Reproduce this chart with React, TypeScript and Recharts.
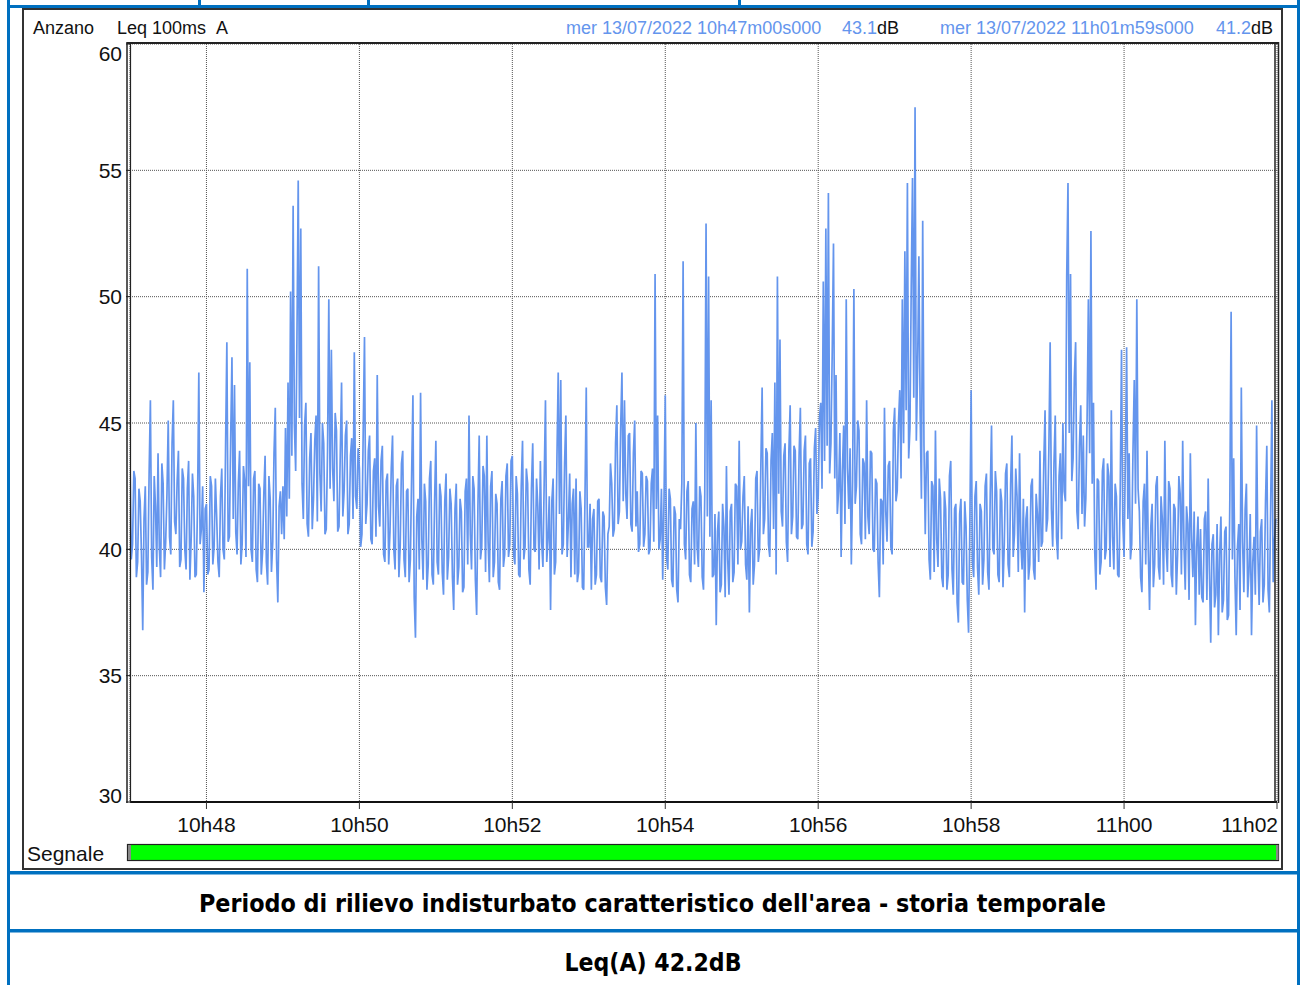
import React from 'react';
import { LineChart, Line, XAxis, YAxis, CartesianGrid } from 'recharts';

// Leq 100ms A (dB), one value per second, one array per minute from 10h47 to 11h01
const m47 = [43.5, 39.6, 40.2, 43.1, 42.8, 38.9, 39.5, 42.4, 41.9, 39.8, 36.8, 41.2, 42.5, 38.6, 39.1, 43.0, 45.9, 39.7, 38.4, 42.9, 41.7, 39.3, 43.8, 40.1, 38.9, 43.4, 42.6, 39.2, 40.3, 42.2, 45.1, 40.5, 39.8, 44.2, 45.9, 41.1, 40.6, 42.7, 43.9, 39.3, 39.6, 43.2, 42.8, 40.0, 39.2, 42.4, 43.5, 38.8, 40.4, 43.0, 42.1, 38.9, 39.0, 41.8, 47.0, 40.2, 40.8, 42.5, 38.3, 41.6];
const m48 = [41.8, 39.0, 39.2, 42.9, 42.5, 39.4, 40.1, 42.8, 41.3, 39.5, 38.9, 42.1, 43.2, 40.0, 39.6, 44.1, 48.2, 40.3, 40.5, 44.4, 47.6, 41.2, 46.5, 40.7, 39.8, 42.6, 43.9, 39.4, 40.2, 43.3, 42.7, 39.7, 51.1, 42.5, 47.4, 40.0, 39.5, 42.8, 43.1, 39.2, 38.7, 42.6, 42.4, 39.0, 39.9, 42.2, 43.7, 39.5, 38.6, 42.9, 42.0, 39.1, 40.3, 43.8, 45.6, 39.6, 37.9, 41.7, 42.3, 40.6];
const m49 = [42.5, 40.4, 44.8, 41.3, 46.6, 42.0, 50.2, 43.7, 53.6, 44.9, 43.1, 48.4, 54.6, 45.2, 52.7, 42.6, 41.2, 44.9, 45.8, 41.0, 40.5, 43.6, 44.6, 40.8, 42.0, 44.3, 45.3, 41.1, 51.2, 43.0, 41.5, 45.0, 44.2, 40.6, 40.8, 43.9, 49.9, 42.4, 47.9, 43.2, 41.9, 45.4, 44.7, 40.7, 40.9, 43.8, 46.6, 41.3, 42.3, 44.5, 45.1, 40.6, 41.0, 43.7, 44.4, 41.2, 47.8, 42.1, 41.6, 44.0];
const m50 = [43.2, 40.1, 40.6, 44.7, 48.4, 41.0, 41.8, 43.9, 44.5, 40.4, 40.2, 43.1, 43.6, 40.5, 46.9, 41.7, 40.9, 43.5, 44.1, 39.8, 39.5, 42.7, 43.0, 39.4, 40.7, 43.2, 44.5, 40.0, 39.2, 42.5, 42.8, 38.9, 40.1, 43.4, 43.9, 39.6, 38.9, 42.3, 42.4, 38.7, 39.6, 43.0, 46.1, 38.1, 36.5, 41.3, 42.0, 39.2, 46.2, 40.4, 38.8, 42.6, 41.9, 38.4, 39.4, 42.8, 43.5, 39.0, 38.6, 41.9];
const m51 = [44.3, 39.5, 39.0, 42.6, 42.1, 39.1, 38.2, 41.9, 43.0, 38.8, 39.7, 42.4, 41.8, 38.9, 37.6, 41.6, 42.6, 38.6, 39.3, 42.0, 41.5, 38.3, 38.5, 42.3, 42.8, 39.4, 45.3, 40.6, 39.2, 42.9, 42.4, 38.8, 37.4, 41.7, 44.5, 39.6, 40.1, 43.3, 42.9, 39.1, 44.5, 40.3, 38.7, 42.5, 43.1, 38.9, 39.5, 42.2, 41.8, 38.7, 38.4, 42.0, 42.7, 39.3, 39.8, 42.9, 43.4, 39.7, 40.2, 43.5];
const m52 = [43.7, 39.8, 39.4, 42.9, 42.2, 39.0, 38.9, 42.5, 44.3, 39.6, 40.1, 43.2, 42.6, 39.2, 38.6, 42.4, 44.2, 40.0, 39.9, 42.8, 41.7, 39.2, 43.5, 40.3, 39.3, 42.7, 45.9, 39.5, 40.4, 42.1, 37.6, 41.9, 42.8, 39.0, 39.5, 43.6, 47.0, 41.4, 46.7, 39.8, 40.2, 43.4, 45.3, 39.7, 41.1, 43.0, 38.9, 41.8, 42.4, 39.0, 42.8, 38.7, 39.1, 42.3, 41.6, 38.5, 38.4, 42.0, 46.4, 40.1];
const m53 = [40.1, 41.8, 38.4, 41.2, 41.6, 38.6, 39.0, 41.9, 42.0, 38.9, 38.7, 41.5, 41.3, 38.5, 37.8, 40.6, 40.9, 43.4, 42.6, 40.5, 40.8, 44.2, 45.7, 41.0, 41.5, 44.8, 47.0, 41.9, 45.9, 42.2, 41.2, 44.5, 44.6, 41.0, 40.7, 43.8, 45.1, 40.9, 42.3, 39.9, 40.2, 43.1, 43.0, 40.1, 40.6, 42.9, 42.7, 39.8, 40.0, 42.6, 43.2, 40.3, 50.9, 41.6, 45.3, 40.0, 40.4, 42.4, 38.8, 41.9];
const m54 = [46.1, 39.7, 39.2, 42.4, 42.0, 38.8, 38.5, 41.7, 41.4, 38.4, 37.9, 41.2, 40.8, 42.6, 51.4, 40.2, 39.6, 42.3, 42.7, 39.0, 38.7, 41.6, 41.9, 39.4, 45.0, 40.1, 39.3, 42.5, 42.1, 38.9, 38.4, 42.2, 52.9, 41.3, 50.8, 40.5, 45.9, 38.9, 39.0, 41.4, 37.0, 40.7, 41.5, 38.3, 38.6, 41.8, 40.9, 38.1, 43.3, 39.6, 38.2, 41.5, 41.8, 38.7, 39.1, 42.6, 42.5, 39.4, 44.3, 40.0];
const m55 = [40.3, 42.1, 42.9, 39.4, 38.8, 41.7, 37.5, 40.9, 41.6, 38.6, 39.4, 42.8, 43.1, 39.5, 40.0, 43.3, 46.4, 40.6, 41.2, 44.0, 43.8, 40.2, 39.7, 43.5, 44.6, 40.8, 46.6, 39.0, 50.8, 42.2, 48.3, 41.5, 40.9, 43.7, 44.2, 40.3, 39.5, 43.9, 45.7, 40.6, 41.3, 44.1, 43.9, 40.5, 40.4, 43.7, 45.6, 40.8, 41.0, 43.9, 44.5, 40.2, 39.8, 43.4, 43.6, 40.1, 40.7, 44.0, 44.8, 41.4];
const m56 = [42.1, 45.2, 45.8, 42.4, 50.6, 43.5, 52.7, 44.1, 54.1, 43.0, 44.2, 47.8, 52.1, 42.8, 46.9, 41.4, 42.3, 44.6, 39.7, 43.1, 44.9, 41.0, 49.9, 43.2, 41.6, 44.0, 39.4, 42.7, 50.3, 41.8, 42.5, 45.1, 44.7, 40.6, 40.2, 43.6, 43.4, 40.4, 45.9, 41.3, 40.6, 43.9, 43.8, 40.0, 39.9, 42.8, 42.6, 39.5, 38.1, 42.0, 41.9, 39.4, 45.6, 41.5, 40.3, 43.3, 43.5, 40.1, 39.8, 44.7];
const m57 = [45.6, 41.9, 42.3, 45.0, 46.3, 42.8, 49.9, 44.2, 51.8, 45.5, 54.5, 43.6, 44.8, 50.4, 54.7, 46.0, 57.5, 44.3, 47.2, 51.6, 45.4, 42.0, 53.0, 44.1, 40.6, 43.8, 43.9, 39.6, 38.8, 42.7, 42.5, 39.1, 44.7, 40.4, 39.3, 42.8, 42.0, 38.9, 38.5, 42.3, 41.6, 38.4, 39.0, 42.9, 43.5, 39.2, 38.2, 41.6, 41.8, 37.9, 37.1, 41.4, 42.0, 38.7, 38.6, 41.9, 40.9, 38.0, 36.7, 41.0];
const m58 = [46.3, 39.5, 38.9, 42.1, 42.7, 39.3, 38.2, 41.8, 41.5, 38.6, 39.6, 42.5, 43.0, 39.1, 38.4, 42.2, 44.9, 40.0, 39.8, 43.1, 42.3, 39.0, 38.7, 42.4, 41.9, 38.5, 40.2, 43.0, 43.4, 39.4, 38.9, 42.6, 44.5, 39.7, 40.6, 43.2, 42.1, 39.1, 43.8, 40.3, 39.2, 42.0, 37.5, 41.2, 41.7, 38.8, 39.4, 42.5, 42.8, 39.2, 38.8, 42.2, 41.4, 39.5, 43.9, 40.1, 40.3, 43.4, 45.5, 40.7];
const m59 = [41.2, 44.0, 48.2, 41.6, 40.1, 43.4, 45.3, 40.5, 39.6, 42.9, 43.8, 40.4, 45.0, 42.3, 41.9, 50.8, 54.5, 44.6, 50.9, 42.7, 43.6, 46.8, 48.2, 41.5, 40.8, 44.1, 45.7, 41.4, 44.5, 40.9, 42.0, 45.2, 49.9, 43.8, 52.6, 42.6, 45.8, 39.9, 38.4, 42.8, 42.7, 39.0, 39.5, 43.1, 43.6, 39.6, 40.0, 43.4, 42.9, 39.3, 45.5, 40.5, 39.2, 42.6, 42.1, 39.0, 38.9, 42.4, 47.9, 41.1];
const m00 = [39.7, 43.5, 48.0, 41.2, 43.8, 39.6, 40.2, 43.9, 46.7, 41.8, 49.9, 42.4, 41.5, 38.9, 38.3, 41.9, 42.6, 39.4, 43.9, 40.0, 37.6, 40.9, 41.8, 38.5, 39.4, 42.5, 42.9, 39.3, 38.8, 42.1, 41.2, 38.6, 44.3, 40.1, 39.1, 42.7, 42.4, 39.0, 38.5, 41.8, 41.6, 38.2, 39.8, 42.9, 42.2, 39.0, 44.3, 40.2, 38.4, 41.7, 41.0, 38.0, 43.8, 40.4, 38.9, 41.5, 37.0, 40.1, 41.3, 38.2];
const m01 = [40.8, 38.1, 37.9, 41.2, 41.5, 38.0, 42.8, 39.1, 36.3, 40.2, 40.6, 37.7, 38.2, 41.0, 36.6, 39.8, 41.3, 37.5, 38.0, 40.7, 40.9, 37.2, 37.4, 42.0, 49.4, 39.6, 43.6, 38.9, 36.6, 40.1, 41.0, 37.6, 46.4, 40.3, 38.3, 41.6, 42.6, 38.1, 39.1, 41.4, 36.6, 39.5, 40.5, 38.2, 44.9, 39.8, 37.8, 40.7, 41.2, 37.9, 38.6, 41.9, 44.1, 38.4, 37.5, 41.6, 45.9, 38.7, 40.3, 41.2];

const stepSeconds = 1;
const xTicks = [60, 180, 300, 420, 540, 660, 780, 900];
const xTickLabels = ['10h48', '10h50', '10h52', '10h54', '10h56', '10h58', '11h00', '11h02'];
const yTicks = [30, 35, 40, 45, 50, 55, 60];

const startLabel = 'mer 13/07/2022 10h47m00s000';
const startValue = '43.1';
const endLabel = 'mer 13/07/2022 11h01m59s000';
const endValue = '41.2';
const caption = "Periodo di rilievo indisturbato caratteristico dell'area - storia temporale";
const leqTotal = 'Leq(A) 42.2dB';

const series = [...m47, ...m48, ...m49, ...m50, ...m51, ...m52, ...m53, ...m54, ...m55, ...m56, ...m57, ...m58, ...m59, ...m00, ...m01];
const data = series.map((v, i) => ({ t: i * stepSeconds, v }));

const BLUE = '#0070C0';
const LINE = '#6495ED';
const FONT = '"Liberation Sans", Arial, sans-serif';

const XTick = (props: any) => {
  const { x, payload } = props;
  const idx = xTicks.indexOf(payload.value);
  const last = idx === xTicks.length - 1;
  return (
    <text x={last ? x + 1 : x} y={802 + 30} textAnchor={last ? 'end' : 'middle'} fontFamily={FONT} fontSize={21} fill="#111">
      {xTickLabels[idx]}
    </text>
  );
};

const YTick = (props: any) => {
  const { y, payload } = props;
  const v = payload.value;
  let dy = 7.5;
  if (v === 60) dy = 17;
  if (v === 30) dy = 1;
  return (
    <text x={122} y={y + dy} textAnchor="end" fontFamily={FONT} fontSize={21} fill="#111">
      {v}
    </text>
  );
};

export default function App() {
  return (
    <div style={{ position: 'absolute', left: 0, top: 0, width: 1303, height: 985, background: '#fff', overflow: 'hidden' }}>
      <div style={{ position: 'absolute', left: 0, top: 0 }}>
        <LineChart width={1303} height={985} data={data} margin={{ top: 44, right: 26, left: 0, bottom: 0 }}>
          <CartesianGrid stroke="#555" strokeDasharray="1 1" strokeWidth={1} />
          <XAxis
            dataKey="t"
            type="number"
            domain={[0, 900]}
            ticks={xTicks}
            height={183}
            tick={<XTick />}
            tickSize={7}
            tickLine={{ stroke: '#333' }}
            axisLine={{ stroke: '#111', strokeWidth: 2 }}
            interval={0}
            allowDataOverflow
          />
          <YAxis
            type="number"
            domain={[30, 60]}
            ticks={yTicks}
            width={130}
            tick={<YTick />}
            tickSize={4}
            tickLine={{ stroke: '#111' }}
            axisLine={false}
            interval={0}
            allowDataOverflow
          />
          <Line type="linear" dataKey="v" stroke={LINE} strokeWidth={1.7} dot={false} isAnimationActive={false} />
        </LineChart>
      </div>
      <svg width={1303} height={985} style={{ position: 'absolute', left: 0, top: 0, pointerEvents: 'none' }}>
        <rect x={7} y={0} width={3} height={985} fill={BLUE} />
        <rect x={1297} y={0} width={3} height={985} fill={BLUE} />
        <rect x={7} y={5} width={1293} height={3} fill={BLUE} />
        <rect x={198} y={0} width={3} height={6} fill={BLUE} />
        <rect x={367} y={0} width={3} height={6} fill={BLUE} />
        <rect x={738} y={0} width={3} height={6} fill={BLUE} />
        <rect x={7} y={871} width={1293} height={3.5} fill={BLUE} />
        <rect x={7} y={929} width={1293} height={3.5} fill={BLUE} />
        <rect x={23} y={9} width={1259} height={860} fill="none" stroke="#333" strokeWidth={2} />
        <line x1={127} y1={42} x2={127} y2={803} stroke="#222" strokeWidth={1.5} />
        <line x1={130.5} y1={43} x2={130.5} y2={803} stroke="#222" strokeWidth={1.2} />
        <line x1={127} y1={43} x2={1279} y2={43} stroke="#222" strokeWidth={2} />
        <line x1={1275} y1={43} x2={1275} y2={802} stroke="#222" strokeWidth={1.5} />
        <line x1={1278.5} y1={42} x2={1278.5} y2={803} stroke="#222" strokeWidth={1.5} />
        <text x={33} y={34} fontFamily={FONT} fontSize={18} fill="#111">Anzano</text>
        <text x={117} y={34} fontFamily={FONT} fontSize={18} fill="#111">Leq 100ms</text>
        <text x={216} y={34} fontFamily={FONT} fontSize={18} fill="#111">A</text>
        <text x={566} y={34} fontFamily={FONT} fontSize={18} fill={LINE}>{startLabel}</text>
        <text x={842} y={34} fontFamily={FONT} fontSize={18} fill={LINE}>{startValue}</text>
        <text x={899} y={34} textAnchor="end" fontFamily={FONT} fontSize={18} fill="#111">dB</text>
        <text x={940} y={34} fontFamily={FONT} fontSize={18} fill={LINE}>{endLabel}</text>
        <text x={1216} y={34} fontFamily={FONT} fontSize={18} fill={LINE}>{endValue}</text>
        <text x={1273} y={34} textAnchor="end" fontFamily={FONT} fontSize={18} fill="#111">dB</text>
        <text x={27} y={861} fontFamily={FONT} fontSize={21} fill="#111">Segnale</text>
        <rect x={127.5} y={844.5} width={1151} height={16} fill="#00FF00" stroke="#222" strokeWidth={1.2} />
        <rect x={128} y={845} width={3} height={15} fill="#888" />
        <rect x={1276} y={845} width={2.5} height={15} fill="#888" />
        <text x={652.5} y={912} textAnchor="middle" fontFamily='"DejaVu Sans", sans-serif' fontWeight="bold" fontSize={25} textLength={907} lengthAdjust="spacingAndGlyphs" fill="#000">{caption}</text>
        <text x={653} y={971} textAnchor="middle" fontFamily='"DejaVu Sans", sans-serif' fontWeight="bold" fontSize={25} textLength={177} lengthAdjust="spacingAndGlyphs" fill="#000">{leqTotal}</text>
      </svg>
    </div>
  );
}
